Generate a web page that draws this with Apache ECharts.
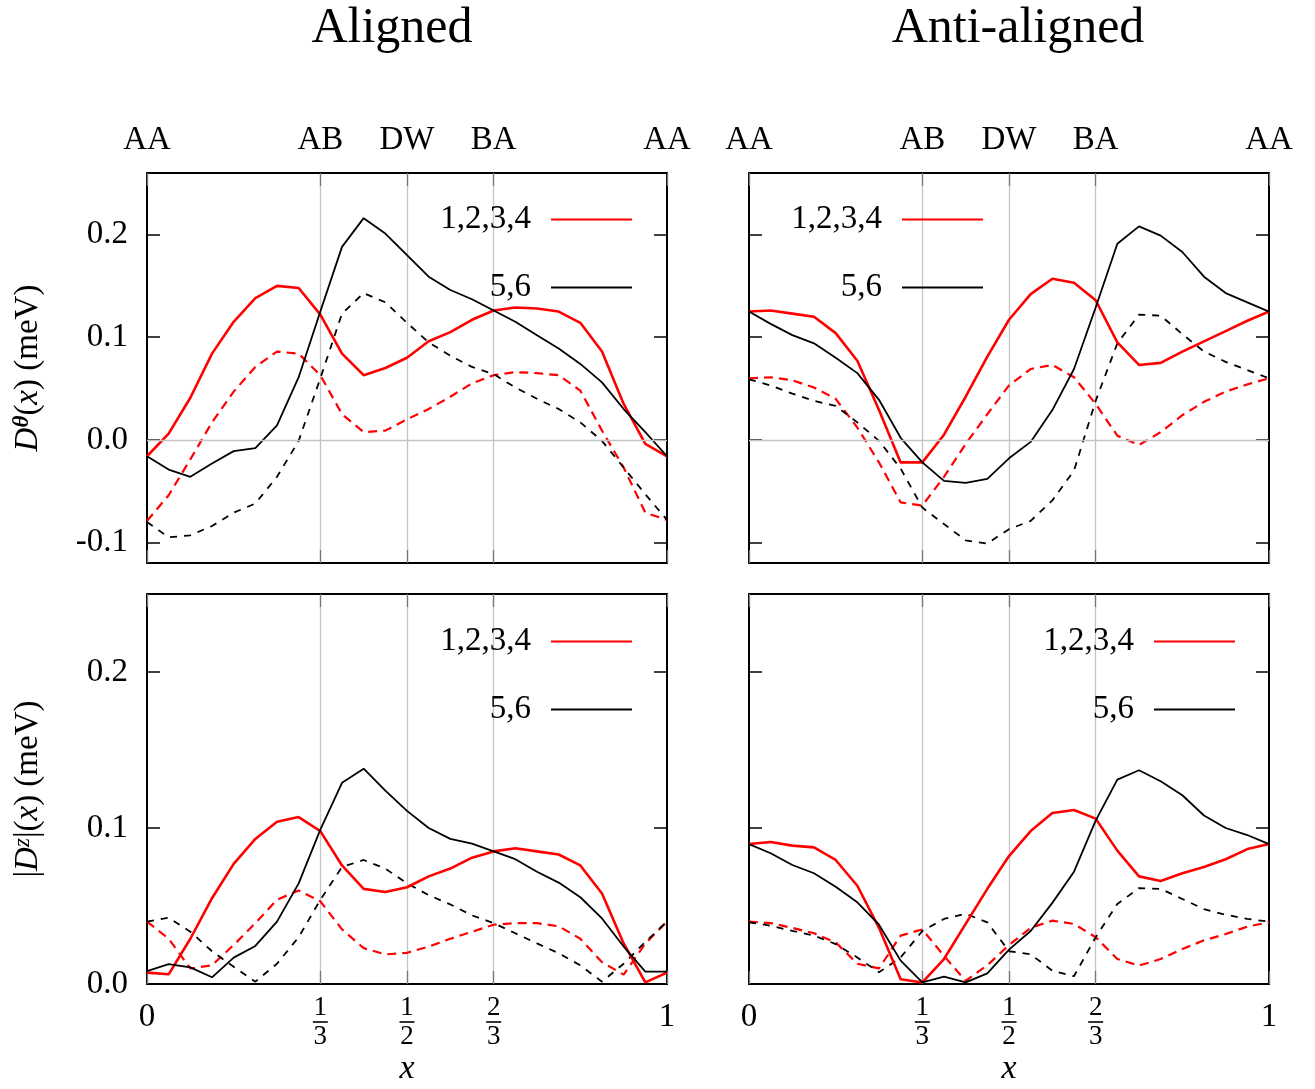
<!DOCTYPE html>
<html><head><meta charset="utf-8">
<script src="https://cdn.jsdelivr.net/npm/echarts@6/dist/echarts.min.js"></script>
<style>html,body{margin:0;padding:0;background:#fff}#c{width:1315px;height:1089px}</style>
</head><body><div id="c"></div>
<script>
// x positions (i/24)
const xValues = ["0.0000","0.0417","0.0833","0.1250","0.1667","0.2083","0.2500","0.2917","0.3333","0.3750","0.4167","0.4583","0.5000","0.5417","0.5833","0.6250","0.6667","0.7083","0.7500","0.7917","0.8333","0.8750","0.9167","0.9583","1.0000"];
// tick labels at category indices 0, 8, 12, 16, 24
const tickIndices = [0, 8, 12, 16, 24];
const topTickLabels = ["AA", "AB", "DW", "BA", "AA"];
const bottomTickLabels = ["0", "1/3", "1/2", "2/3", "1"];
const legendNames = ["1,2,3,4", "5,6"];
const panelTitles = ["Aligned", "Anti-aligned"];

// Aligned, D^theta
const alignedThetaA = [-0.016,0.006,0.041,0.084,0.115,0.138,0.150,0.148,0.122,0.084,0.063,0.070,0.080,0.096,0.105,0.117,0.126,0.129,0.128,0.125,0.114,0.086,0.035,-0.004,-0.016];
const alignedThetaB = [-0.016,-0.029,-0.036,-0.023,-0.011,-0.008,0.014,0.061,0.125,0.188,0.216,0.201,0.180,0.159,0.146,0.137,0.126,0.115,0.102,0.089,0.074,0.056,0.030,0.0075,-0.016];
const alignedThetaAd = [-0.079,-0.054,-0.019,0.017,0.047,0.071,0.086,0.084,0.063,0.025,0.0075,0.009,0.020,0.030,0.042,0.055,0.063,0.066,0.065,0.063,0.048,0.009,-0.027,-0.071,-0.078];
const alignedThetaBd = [-0.080,-0.095,-0.093,-0.084,-0.071,-0.062,-0.036,-0.001,0.060,0.123,0.143,0.134,0.114,0.095,0.082,0.071,0.064,0.051,0.040,0.030,0.017,-0.001,-0.027,-0.053,-0.078];
// Anti-aligned, D^theta
const antiThetaA = [0.125,0.126,0.123,0.120,0.104,0.077,0.029,-0.022,-0.022,0.005,0.042,0.081,0.117,0.142,0.157,0.153,0.136,0.095,0.073,0.075,0.086,0.096,0.106,0.116,0.125];
const antiThetaB = [0.125,0.113,0.102,0.094,0.080,0.065,0.039,0.002,-0.022,-0.040,-0.042,-0.038,-0.018,-0.002,0.029,0.069,0.129,0.191,0.208,0.199,0.183,0.159,0.143,0.134,0.125];
const antiThetaAd = [0.060,0.061,0.058,0.051,0.040,0.012,-0.022,-0.061,-0.064,-0.036,-0.004,0.025,0.053,0.069,0.073,0.061,0.035,0.004,-0.005,0.0075,0.024,0.037,0.047,0.054,0.060];
const antiThetaBd = [0.059,0.053,0.045,0.038,0.033,0.017,-0.001,-0.028,-0.066,-0.082,-0.098,-0.101,-0.087,-0.079,-0.059,-0.030,0.038,0.094,0.122,0.121,0.103,0.086,0.076,0.068,0.060];
// Aligned, |D^z|
const alignedZA = [0.0073,0.0062,0.029,0.055,0.077,0.093,0.104,0.107,0.098,0.076,0.061,0.059,0.062,0.069,0.074,0.081,0.085,0.087,0.085,0.083,0.076,0.058,0.026,0.001,0.0073];
const alignedZB = [0.0083,0.0128,0.0107,0.0043,0.0169,0.0244,0.040,0.0645,0.099,0.129,0.138,0.124,0.111,0.100,0.093,0.090,0.085,0.080,0.072,0.065,0.0556,0.042,0.024,0.0079,0.0079];
const alignedZAd = [0.040,0.029,0.010,0.012,0.025,0.039,0.054,0.060,0.053,0.035,0.023,0.019,0.020,0.024,0.029,0.0335,0.038,0.039,0.039,0.037,0.029,0.014,0.006,0.026,0.040];
const alignedZBd = [0.040,0.0425,0.0335,0.021,0.011,0.0015,0.013,0.030,0.054,0.075,0.0795,0.074,0.0645,0.057,0.051,0.044,0.039,0.0325,0.026,0.0197,0.012,0.0015,0.013,0.027,0.040];
// Anti-aligned, |D^z|
const antiZA = [0.0897,0.091,0.0887,0.0876,0.0795,0.063,0.036,0.003,0.001,0.016,0.0385,0.061,0.082,0.098,0.1096,0.1115,0.106,0.0855,0.069,0.066,0.071,0.075,0.080,0.0865,0.0897];
const antiZB = [0.0897,0.0838,0.0763,0.071,0.0624,0.0524,0.038,0.015,0.001,0.0047,0.001,0.0068,0.022,0.034,0.052,0.072,0.1047,0.131,0.137,0.130,0.121,0.108,0.100,0.0955,0.0897];
const antiZAd = [0.040,0.039,0.036,0.0325,0.0267,0.013,0.010,0.031,0.035,0.018,0.002,0.012,0.025,0.036,0.0406,0.0385,0.030,0.016,0.0118,0.016,0.0224,0.028,0.032,0.0368,0.0395];
const antiZBd = [0.0395,0.0374,0.034,0.031,0.0256,0.017,0.0075,0.017,0.034,0.0417,0.045,0.0395,0.021,0.019,0.0085,0.005,0.030,0.0513,0.0615,0.061,0.0545,0.048,0.0444,0.0417,0.040];

const FONT = "'Liberation Serif', 'DejaVu Serif', serif";
const RED = '#ff0000', BLACK = '#000000';

const panels = [
  {left: 147, top: 173, row: 0, col: 0, data: [alignedThetaA, alignedThetaB, alignedThetaAd, alignedThetaBd]},
  {left: 749, top: 173, row: 0, col: 1, data: [antiThetaA, antiThetaB, antiThetaAd, antiThetaBd]},
  {left: 147, top: 594, row: 1, col: 0, data: [alignedZA, alignedZB, alignedZAd, alignedZBd]},
  {left: 749, top: 594, row: 1, col: 1, data: [antiZA, antiZB, antiZAd, antiZBd]}
];
const PW = 520, PH = 390;

const isTick = (idx) => tickIndices.indexOf(idx) >= 0;
const isInner = (idx) => idx === 8 || idx === 12 || idx === 16;

function fracLabel(s) {
  if (s.indexOf('/') < 0) return '{w|' + s + '}';
  const p = s.split('/');
  return '{n|' + p[0] + '}\n{b|}\n{d|' + p[1] + '}';
}

const grid = [], xAxis = [], yAxis = [], series = [], legend = [];
panels.forEach((p, k) => {
  grid.push({left: p.left, top: p.top, width: PW, height: PH, containLabel: false});
  const axisLine = {show: true, onZero: false, lineStyle: {color: '#000', width: 2}};
  // bottom x axis
  xAxis.push({
    type: 'category', gridIndex: k, position: 'bottom', data: xValues, boundaryGap: false,
    axisLine: axisLine,
    axisTick: {show: true, inside: true, length: 13, interval: (i) => isTick(i), lineStyle: {color: '#777', width: 1.3}},
    splitLine: {show: true, interval: (i) => isInner(i), lineStyle: {color: '#c4c4c4', width: 1.3}},
    axisLabel: {
      show: p.row === 1, interval: (i) => isTick(i), margin: 13,
      formatter: (v, i) => fracLabel(bottomTickLabels[tickIndices.indexOf(i)] || ''),
      rich: {
        w: {fontFamily: FONT, fontSize: 33, lineHeight: 33, color: '#000', padding: [7, 0, 0, 0]},
        n: {fontFamily: FONT, fontSize: 27, lineHeight: 22, color: '#000', align: 'center'},
        b: {width: 15, height: 1.6, backgroundColor: '#000', lineHeight: 6, align: 'center'},
        d: {fontFamily: FONT, fontSize: 27, lineHeight: 24, color: '#000', align: 'center'}
      }
    },
    name: p.row === 1 ? 'x' : '', nameLocation: 'middle', nameGap: 68,
    nameTextStyle: {fontFamily: FONT, fontSize: 34, fontStyle: 'italic', color: '#000'}
  });
  // top x axis
  xAxis.push({
    type: 'category', gridIndex: k, position: 'top', data: xValues, boundaryGap: false,
    axisLine: axisLine,
    axisTick: {show: true, inside: true, length: 13, interval: (i) => isTick(i), lineStyle: {color: '#777', width: 1.3}},
    splitLine: {show: false},
    axisLabel: {
      show: p.row === 0, interval: (i) => isTick(i), margin: 16,
      formatter: (v, i) => topTickLabels[tickIndices.indexOf(i)] || '',
      fontFamily: FONT, fontSize: 33, lineHeight: 33, color: '#000'
    }
  });
  const yr = p.row === 0 ? {min: -0.12, max: 0.26} : {min: 0, max: 0.25, interval: 0.1};
  const yName = p.row === 0
    ? '{i|D}{s|θ}{r|(}{i|x}{r|) (meV)}'
    : '{r||}{i|D}{z|z}{r||(}{i|x}{r|) (meV)}';
  yAxis.push(Object.assign({
    type: 'value', gridIndex: k, position: 'left',
    axisLine: axisLine,
    axisTick: {show: true, inside: true, length: 13, lineStyle: {color: '#000', width: 1.5}},
    splitLine: {show: false},
    axisLabel: {
      show: p.col === 0, margin: 19, showMinLabel: p.row === 1, showMaxLabel: false,
      formatter: (v) => v.toFixed(1),
      fontFamily: FONT, fontSize: 33, color: '#000'
    },
    name: p.col === 0 ? yName : '', nameLocation: 'middle', nameRotate: 90, nameGap: 102,
    nameTextStyle: {
      rich: {
        i: {fontFamily: FONT, fontSize: 33, fontStyle: 'italic', color: '#000', lineHeight: 34},
        r: {fontFamily: FONT, fontSize: 33, color: '#000', lineHeight: 34},
        s: {fontFamily: FONT, fontSize: 23, fontStyle: 'italic', fontWeight: 'bold', color: '#000', lineHeight: 20, verticalAlign: 'top'},
        z: {fontFamily: FONT, fontSize: 23, fontStyle: 'italic', color: '#000', lineHeight: 20, verticalAlign: 'top'}
      }
    }
  }, yr));
  yAxis.push(Object.assign({
    type: 'value', gridIndex: k, position: 'right',
    axisLine: axisLine,
    axisTick: {show: true, inside: true, length: 13, lineStyle: {color: '#000', width: 1.5}},
    splitLine: {show: false},
    axisLabel: {show: false}
  }, yr));

  const xi = 2 * k, yi = 2 * k;
  const base = {type: 'line', xAxisIndex: xi, yAxisIndex: yi, showSymbol: false, symbol: 'none', animation: false, silent: true};
  const dRed = Object.assign({}, base, {name: 'dashed 1,2,3,4', data: p.data[2], itemStyle: {color: RED}, lineStyle: {color: RED, width: 2.2, type: [9, 6]}});
  if (p.row === 0) {
    dRed.markLine = {silent: true, symbol: ['none', 'none'], animation: false, label: {show: false},
      lineStyle: {color: '#c4c4c4', width: 1.3, type: 'solid'}, data: [{yAxis: 0}]};
  }
  series.push(dRed);
  series.push(Object.assign({}, base, {name: 'dashed 5,6', data: p.data[3], itemStyle: {color: BLACK}, lineStyle: {color: BLACK, width: 1.8, type: [7, 7]}}));
  series.push(Object.assign({}, base, {name: legendNames[0], data: p.data[0], itemStyle: {color: RED}, lineStyle: {color: RED, width: 2.6}}));
  series.push(Object.assign({}, base, {name: legendNames[1], data: p.data[1], itemStyle: {color: BLACK}, lineStyle: {color: BLACK, width: 1.8}}));

  const lineRight = p.col === 0 ? 632 : (p.row === 0 ? 983 : 1235);
  legend.push({
    data: legendNames, orient: 'vertical', align: 'right', icon: 'rect',
    itemWidth: 81, itemHeight: 2, itemGap: 35, selectedMode: false,
    right: 1315 - lineRight, top: (p.row === 0 ? 220 : 642) - 17,
    padding: 0,
    textStyle: {fontFamily: FONT, fontSize: 33, lineHeight: 33, color: '#000', padding: [0, 15, 0, 0]}
  });
});

const chart = echarts.init(document.getElementById('c'), null, {renderer: 'canvas'});
chart.setOption({
  backgroundColor: '#fff',
  animation: false,
  grid, xAxis, yAxis, series, legend,
  graphic: [
    {type: 'text', x: 392, y: 29, style: {text: panelTitles[0], font: '50px ' + FONT, fill: '#000', align: 'center', verticalAlign: 'middle'}},
    {type: 'text', x: 1018, y: 29, style: {text: panelTitles[1], font: '50px ' + FONT, fill: '#000', align: 'center', verticalAlign: 'middle'}}
  ]
});
</script></body></html>
